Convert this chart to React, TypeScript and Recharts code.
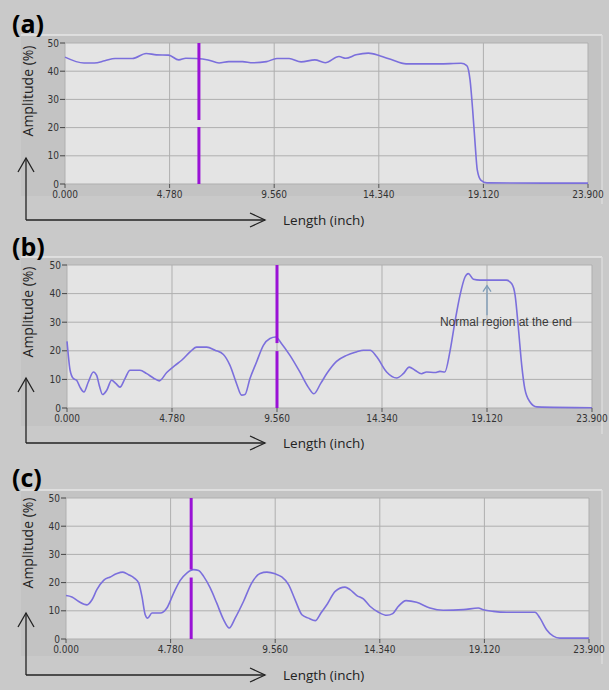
import React from 'react'
import { LineChart, Line, XAxis, YAxis, CartesianGrid, ReferenceLine } from 'recharts'

// shared axis ticks
const LEN_TICKS = [0, 4.78, 9.56, 14.34, 19.12, 23.9]
const AMP_TICKS = [0, 10, 20, 30, 40, 50]

// (a) amplitude along the length
const lenA = [0, 0.87, 1.34, 1.82, 2.29, 3.08, 3.71, 4.18, 4.73, 5.2, 5.52, 5.99, 6.54, 7.04, 7.48, 8.11, 8.58, 9.21, 9.68, 10.24, 10.79, 11.42, 11.89, 12.52, 12.83, 13.3, 13.86, 14.41, 14.88, 15.59, 17.09, 18.1, 18.36, 18.51, 18.63, 18.74, 18.84, 19.0, 19.28, 23.9]
const ampA = [45.0, 42.9, 42.9, 43.7, 44.5, 44.5, 46.3, 45.8, 45.7, 44.0, 44.6, 44.5, 44.0, 42.9, 43.4, 43.4, 43.0, 43.4, 44.5, 44.5, 43.3, 44.0, 43.0, 45.2, 44.6, 45.8, 46.4, 45.4, 44.2, 42.6, 42.6, 42.8, 42.0, 36.9, 26.2, 14.4, 5.0, 1.4, 0.4, 0.3]

// (b)
const lenB = [0, 0.06, 0.14, 0.29, 0.44, 0.59, 0.77, 0.97, 1.2, 1.35, 1.47, 1.62, 1.81, 2.03, 2.23, 2.41, 2.64, 2.87, 3.32, 3.63, 3.93, 4.2, 4.54, 4.92, 5.22, 5.6, 5.9, 6.36, 6.74, 7.12, 7.42, 7.72, 7.95, 8.1, 8.33, 8.63, 8.94, 9.24, 9.5, 9.77, 10.15, 10.6, 10.98, 11.24, 11.55, 11.85, 12.27, 12.73, 13.18, 13.49, 13.8, 14.1, 14.55, 15.01, 15.31, 15.58, 15.84, 16.14, 16.37, 16.75, 16.98, 17.2, 17.43, 17.66, 17.89, 18.12, 18.27, 18.5, 18.8, 20.0, 20.24, 20.4, 20.55, 20.7, 20.84, 21.07, 21.38, 23.9]
const ampB = [23.3, 18.4, 13.2, 10.3, 9.7, 7.3, 5.6, 9.1, 12.6, 11.4, 7.9, 4.7, 6.2, 9.7, 8.5, 7.3, 10.3, 13.2, 13.2, 12.0, 10.5, 9.5, 12.4, 14.9, 16.7, 19.6, 21.3, 21.3, 20.2, 18.7, 14.9, 8.5, 4.5, 4.7, 10.3, 16.1, 21.9, 24.3, 24.8, 22.5, 18.4, 12.6, 7.3, 5.0, 8.6, 12.3, 16.3, 18.4, 19.6, 20.2, 20.2, 17.9, 12.6, 10.5, 12.0, 14.3, 13.2, 12.0, 12.6, 12.4, 12.8, 12.6, 19.6, 30.1, 39.4, 45.8, 47.0, 45.0, 44.7, 44.7, 43.5, 39.4, 27.8, 15.0, 6.8, 2.2, 0.4, 0.1]

// (c)
const lenC = [0, 0.27, 0.58, 0.96, 1.19, 1.41, 1.72, 2.02, 2.33, 2.6, 2.86, 3.12, 3.32, 3.47, 3.62, 3.73, 3.93, 4.31, 4.61, 4.92, 5.22, 5.52, 5.83, 6.06, 6.29, 6.59, 6.89, 7.2, 7.46, 7.73, 8.11, 8.49, 8.87, 9.18, 9.56, 9.86, 10.17, 10.47, 10.78, 11.08, 11.39, 11.65, 11.95, 12.3, 12.75, 12.98, 13.29, 13.59, 13.89, 14.28, 14.66, 14.93, 15.19, 15.54, 16.02, 16.63, 17.24, 18.16, 18.84, 19.07, 19.53, 20.14, 21.43, 21.66, 21.96, 22.27, 22.57, 23.9]
const ampC = [15.4, 14.9, 13.3, 12.1, 13.9, 17.5, 20.8, 22.0, 23.2, 23.7, 22.8, 21.6, 19.9, 15.1, 8.6, 7.4, 9.2, 9.2, 11.0, 16.3, 20.8, 23.4, 24.6, 24.3, 22.2, 18.1, 12.7, 6.9, 3.9, 7.4, 13.3, 19.9, 23.2, 23.7, 23.1, 22.0, 19.3, 13.9, 8.6, 7.4, 6.5, 9.2, 12.5, 16.9, 18.4, 17.5, 15.4, 14.2, 11.6, 9.5, 8.4, 9.0, 11.6, 13.6, 13.0, 11.0, 10.2, 10.4, 11.0, 10.4, 9.8, 9.5, 9.5, 7.4, 3.3, 1.0, 0.3, 0.3]

// cursor position and the gap drawn in it: [x, gapLow, gapHigh]
const cursorA = [6.12, 20.2, 22.7]
const cursorB = [9.56, 19.9, 22.7]
const cursorC = [5.72, 21.8, 24.6]

const toRows = (xs: number[], ys: number[]) => xs.map((x, i) => ({ len: x, amp: ys[i] }))

const tickFont = { fill: '#333', fontSize: 10, fontFamily: "'DejaVu Sans Condensed', sans-serif" }
const W = 609
const H = 230

function NoteArrow(props: any) {
  const { x1, y1, y2 } = props
  const top = Math.min(y1, y2)
  const bot = Math.max(y1, y2)
  return (
    <g>
      <line x1={x1} y1={bot} x2={x1} y2={top} stroke="#7d9cb8" strokeWidth={1.3} />
      <polyline points={`${x1 - 4},${top + 6} ${x1},${top} ${x1 + 4},${top + 6}`} fill="none" stroke="#7d9cb8" strokeWidth={1.3} />
      <text x={x1 + 19} y={bot + 11} textAnchor="middle" fontSize={12} fill="#3a3a3a" fontFamily="'Liberation Sans', Arial, sans-serif">
        Normal region at the end
      </text>
    </g>
  )
}

function Panel({ top, label, rows, cursor, margin, note }: any) {
  const [cx, lo, hi] = cursor
  return (
    <div style={{ position: 'absolute', left: 0, top, width: W, height: H }}>
      <svg width={W} height={H} style={{ position: 'absolute', left: 0, top: 0 }}>
        <rect x={21} y={margin.top - 8} width={581} height={H - margin.top - 8 - 18} fill="#c3c3c3" />
        <line x1={21} y1={margin.top - 8} x2={602} y2={margin.top - 8} stroke="#e6e6e6" strokeWidth={1.5} />
        <line x1={602} y1={margin.top - 8} x2={602} y2={H - 26} stroke="#dadada" strokeWidth={1.5} />
      </svg>
      <div style={{ position: 'absolute', left: 0, top: 0 }}>
        <LineChart width={W} height={H} data={rows} margin={margin}>
          <CartesianGrid fill="#e4e4e4" stroke="#afafaf" strokeWidth={1} verticalValues={LEN_TICKS} horizontalValues={AMP_TICKS} />
          <XAxis
            dataKey="len"
            type="number"
            domain={[0, 23.9]}
            ticks={LEN_TICKS}
            tickFormatter={(v: number) => v.toFixed(3)}
            interval={0}
            height={30}
            axisLine={false}
            tickLine={{ stroke: '#555' }}
            tickSize={4}
            tickMargin={3}
            tick={tickFont}
          />
          <YAxis
            type="number"
            domain={[0, 50]}
            ticks={AMP_TICKS}
            interval={0}
            width={40}
            axisLine={false}
            tickLine={{ stroke: '#444' }}
            tickSize={5}
            tickMargin={1}
            tick={tickFont}
          />
          <Line dataKey="amp" type="monotone" stroke="#7b6fdc" strokeWidth={1.6} dot={false} isAnimationActive={false} />
          <ReferenceLine segment={[{ x: cx, y: 0 }, { x: cx, y: lo }]} stroke="#9a12d6" strokeWidth={3} />
          <ReferenceLine segment={[{ x: cx, y: hi }, { x: cx, y: 50 }]} stroke="#9a12d6" strokeWidth={3} />
          {note && <ReferenceLine segment={[{ x: 19.12, y: 32.4 }, { x: 19.12, y: 42.8 }]} shape={NoteArrow} />}
        </LineChart>
      </div>
      <svg width={W} height={H} style={{ position: 'absolute', left: 0, top: 0, pointerEvents: 'none', overflow: 'visible' }}>
        <text x={12} y={label.y} fontSize={25} fontWeight={700} fill="#000" fontFamily="'Open Sans', sans-serif">{label.text}</text>
        <text
          transform={`translate(33, ${label.ampY}) rotate(-90)`}
          textAnchor="middle"
          fontSize={14}
          fill="#222"
          fontFamily="'Open Sans', sans-serif"
        >
          Amplitude (%)
        </text>
        <g stroke="#222" strokeWidth={1.3} fill="none">
          <line x1={26} y1={label.arrowTop} x2={26} y2={label.arrowY} />
          <polyline points={`18,${label.arrowTop + 14} 26,${label.arrowTop} 34,${label.arrowTop + 14}`} />
          <line x1={26} y1={label.arrowY} x2={265} y2={label.arrowY} />
          <polyline points={`250,${label.arrowY - 7} 265,${label.arrowY} 250,${label.arrowY + 7}`} />
        </g>
        <text x={283} y={label.arrowY + 5} fontSize={13.5} fill="#222" fontFamily="'Open Sans', sans-serif">Length (inch)</text>
      </svg>
    </div>
  )
}

export default function App() {
  return (
    <div style={{ position: 'fixed', left: 0, top: 0, width: W, height: 690, background: '#c9c9c9', overflow: 'hidden' }}>
      <Panel
        top={0}
        rows={toRows(lenA, ampA)}
        cursor={cursorA}
        margin={{ top: 43, right: 21, bottom: 16, left: 25 }}
        label={{ text: '(a)', y: 33, ampY: 91, arrowTop: 158, arrowY: 220 }}
      />
      <Panel
        top={230}
        rows={toRows(lenB, ampB)}
        cursor={cursorB}
        note
        margin={{ top: 35, right: 17, bottom: 22, left: 27 }}
        label={{ text: '(b)', y: 26, ampY: 82, arrowTop: 148, arrowY: 213 }}
      />
      <Panel
        top={460}
        rows={toRows(lenC, ampC)}
        cursor={cursorC}
        margin={{ top: 38, right: 20, bottom: 21, left: 26 }}
        label={{ text: '(c)', y: 27, ampY: 83, arrowTop: 153, arrowY: 215 }}
      />
    </div>
  )
}
